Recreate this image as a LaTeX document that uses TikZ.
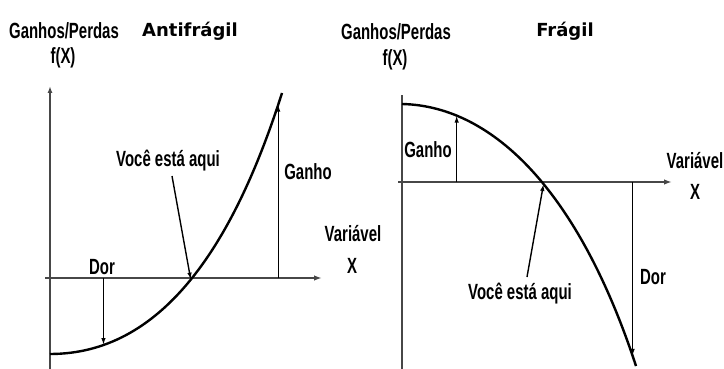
\documentclass[tikz,border=0pt]{standalone}
\usepackage{fontspec}
\setmainfont{Liberation Sans}
\newfontfamily\condfont[FakeStretch=0.68,UprightFont={* Bold}]{Liberation Sans}
\newfontfamily\titlefont{DejaVu Sans}
\usetikzlibrary{arrows.meta}
\begin{document}
\begin{tikzpicture}[x=1pt,y=-1pt,
  lbl/.style={font=\condfont\fontsize{22}{24}\selectfont, inner sep=0pt},
  ttl/.style={font=\titlefont\bfseries\fontsize{18}{20}\selectfont, inner sep=0pt},
  axis/.style={line width=1.8pt, draw=black!72},
  curve/.style={line width=2.4pt, draw=black},
  ptr/.style={line width=1.4pt, -{Latex[length=7pt,width=4.5pt]}},
]
\useasboundingbox (0,0) rectangle (724,369);
\fill[white] (0,0) rectangle (724,369);

% ---------- left panel: Antifragil ----------
\coordinate (yLb) at (50,369);
\coordinate (yLt) at (50,86);
\coordinate (xLl) at (45,278);
\coordinate (xLr) at (322,278);
\coordinate (cL0) at (50,354);
\coordinate (cL1) at (282,93);
\coordinate (hereLs) at (172,176);

\draw[axis,-{Latex[length=7pt,width=5pt]}] (yLb) -- (yLt);
\draw[axis,-{Latex[length=8pt,width=5.5pt]}] (xLl) -- (xLr);
\draw[curve] (cL0) .. controls (160,354) and (232,250) .. (cL1)
  coordinate[pos=0.172] (dorLp)
  coordinate[pos=0.51] (hereL)
  coordinate[pos=0.975] (ganhoLp);
\draw[ptr] (dorLp |- xLl) -- (dorLp);
\draw[ptr] (ganhoLp |- xLl) -- (ganhoLp);
\draw[ptr] (hereLs) -- (hereL);

\node[lbl] (gpL) at (64,31) {Ganhos/Perdas};
\node[lbl] (fxL) at (63,58) {f(X)};
\node[ttl] (antf) at (190,31) {Antifrágil};
\node[lbl] (vocL) at (168,161) {Você está aqui};
\node[lbl] (ganL) at (308,172) {Ganho};
\node[lbl] (dorL) at (102,267) {Dor};
\node[lbl] (varL) at (353,234) {Variável};
\node[lbl] (xL) at (352,266) {X};

% ---------- right panel: Fragil ----------
\coordinate (yRb) at (402,369);
\coordinate (yRt) at (402,95);
\coordinate (xRl) at (398,182);
\coordinate (xRr) at (672,182);
\coordinate (cR0) at (402,104);
\coordinate (cR1) at (636,366);
\coordinate (hereRs) at (527,277);

\draw[axis] (yRb) -- (yRt);
\draw[axis,-{Latex[length=8pt,width=5.5pt]}] (xRl) -- (xRr);
\draw[curve] (cR0) .. controls (495,106) and (580,195) .. (cR1)
  coordinate[pos=0.2] (ganhoRp)
  coordinate[pos=0.545] (hereR)
  coordinate[pos=0.98] (dorRp);
\draw[ptr] (ganhoRp |- xRl) -- (ganhoRp);
\draw[ptr] (dorRp |- xRl) -- (dorRp);
\draw[ptr] (hereRs) -- (hereR);

\node[lbl] (gpR) at (396,32) {Ganhos/Perdas};
\node[lbl] (fxR) at (395,60) {f(X)};
\node[ttl] (frag) at (565,31) {Frágil};
\node[lbl] (ganR) at (428,150) {Ganho};
\node[lbl] (vocR) at (520,294) {Você está aqui};
\node[lbl] (dorR) at (653,277) {Dor};
\node[lbl] (varR) at (695,161) {Variável};
\node[lbl] (xR) at (695,192) {X};
\end{tikzpicture}
\end{document}
